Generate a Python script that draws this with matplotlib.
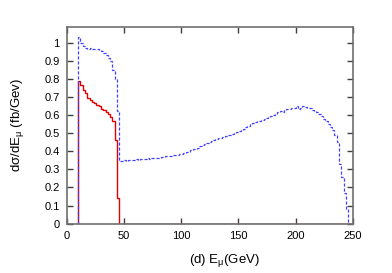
import numpy as np
import matplotlib
matplotlib.use("Agg")
import matplotlib.pyplot as plt

plt.rcParams['font.family'] = ['Liberation Sans', 'DejaVu Sans']
plt.rcParams['mathtext.fontset'] = 'custom'
plt.rcParams['mathtext.rm'] = 'Liberation Sans'
plt.rcParams['mathtext.it'] = 'Liberation Sans'

# histogram data, 2 GeV bins starting at 10 GeV
bin_start = 10.0
bin_width = 2.0

blue_vals = [
    1.03, 1.00, 0.98, 0.97, 0.965, 0.97, 0.965, 0.968, 0.965, 0.958,
    0.955, 0.945, 0.935, 0.915, 0.90, 0.85, 0.80, 0.62, 0.345, 0.348,
    0.35, 0.345, 0.35, 0.352, 0.35, 0.355, 0.352, 0.355, 0.356, 0.358,
    0.36, 0.358, 0.36, 0.365, 0.363, 0.365, 0.37, 0.368, 0.372, 0.375,
    0.373, 0.378, 0.377, 0.38, 0.383, 0.387, 0.39, 0.395, 0.398, 0.405,
    0.41, 0.415, 0.42, 0.428, 0.432, 0.44, 0.444, 0.45, 0.457, 0.46,
    0.468, 0.472, 0.476, 0.48, 0.485, 0.49, 0.492, 0.497, 0.502, 0.507,
    0.512, 0.518, 0.525, 0.535, 0.54, 0.55, 0.555, 0.56, 0.565, 0.57,
    0.575, 0.578, 0.585, 0.59, 0.595, 0.60, 0.605, 0.615, 0.62, 0.615,
    0.628, 0.632, 0.635, 0.64, 0.638, 0.652, 0.635, 0.64, 0.648, 0.645,
    0.64, 0.638, 0.63, 0.625, 0.615, 0.605, 0.595, 0.58, 0.565, 0.55,
    0.535, 0.515, 0.49, 0.45, 0.33, 0.26, 0.17, 0.08,
]

red_vals = [
    0.79, 0.765, 0.74, 0.72, 0.695, 0.685, 0.672, 0.665, 0.655, 0.648,
    0.635, 0.628, 0.618, 0.605, 0.59, 0.57, 0.46, 0.14,
]

xticks = [0, 50, 100, 150, 200, 250]
yticks = [0, 0.1, 0.2, 0.3, 0.4, 0.5, 0.6, 0.7, 0.8, 0.9, 1]

blue_edges = bin_start + bin_width * np.arange(len(blue_vals) + 1)
red_edges = bin_start + bin_width * np.arange(len(red_vals) + 1)

fig = plt.figure(figsize=(3.92, 2.73), dpi=100)
ax = fig.add_axes([0.170, 0.181, 0.730, 0.720])

# red: zero line to the end of the range
ax.plot([red_edges[-1], 250], [0, 0], color='#e00000', lw=1)
ax.stairs(red_vals, red_edges, baseline=0, color='#e00000', lw=1)
ax.stairs(blue_vals, blue_edges, baseline=0, color='#4040ff', lw=0.9,
          linestyle=(0, (2.5, 1.5)))

ax.set_xlim(0, 250)
ax.set_ylim(0, 1.087)
ax.set_xticks(xticks)
ax.set_yticks(yticks)
ax.set_yticklabels([f'{v:g}' for v in yticks])
ax.tick_params(direction='in', top=True, right=True, length=4,
               width=1, color='#404040', labelsize=8, pad=5)
for s in ax.spines.values():
    s.set_color('#707070')
    s.set_linewidth(1.2)

ax.set_xlabel('(d) E$_{μ}$(GeV)', fontsize=9.5, labelpad=8, x=0.55)
ax.set_ylabel('dσ/dE$_{μ}$ (fb/Gev)', fontsize=9.5, labelpad=13)

fig.savefig('out.png', dpi=100)
